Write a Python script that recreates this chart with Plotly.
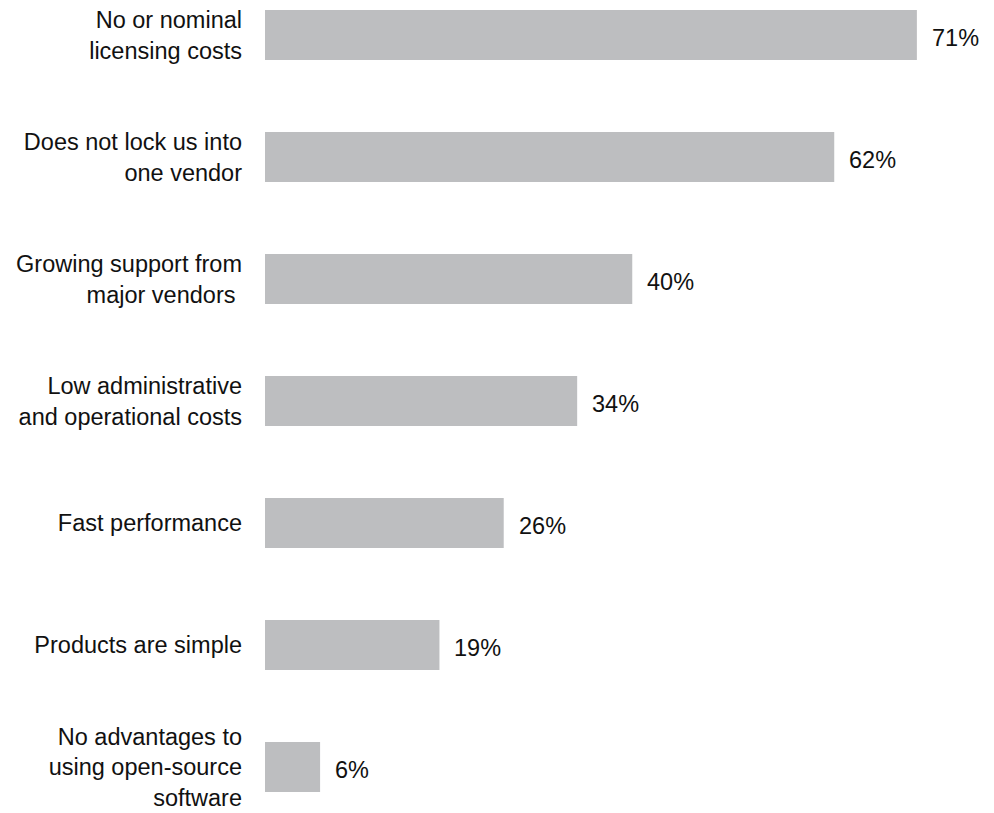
import plotly.graph_objects as go

# Survey: perceived advantages of open-source software (share of respondents, %)
categories = [
    "No or nominal<br>licensing costs",
    "Does not lock us into<br>one vendor",
    "Growing support from<br>major vendors ",
    "Low administrative<br>and operational costs",
    "Fast performance",
    "Products are simple",
    "No advantages to<br>using open-source<br>software",
]
values = [71, 62, 40, 34, 26, 19, 6]
value_labels = [f"{v}%" for v in values]

positions = list(range(len(categories)))

FONT = "Liberation Sans, Arial, Helvetica, sans-serif"
FONT_SIZE = 23.5
BAR_COLOR = "#BDBEC0"
TEXT_COLOR = "#111111"

fig = go.Figure()
fig.add_trace(
    go.Bar(
        x=values,
        y=positions,
        orientation="h",
        width=0.41,
        marker=dict(color=BAR_COLOR, line=dict(width=0)),
        hoverinfo="skip",
    )
)

# percentage labels just right of each bar
for pos, val, lab in zip(positions, values, value_labels):
    fig.add_annotation(
        x=val,
        y=pos,
        text=lab,
        showarrow=False,
        xanchor="left",
        yanchor="middle",
        xshift=13,
        yshift=-3,
        font=dict(family=FONT, size=FONT_SIZE, color=TEXT_COLOR),
    )

fig.update_layout(
    width=994,
    height=813,
    margin=dict(l=265, r=0, t=0, b=0, pad=0),
    paper_bgcolor="white",
    plot_bgcolor="white",
    showlegend=False,
    font=dict(family=FONT, size=FONT_SIZE, color=TEXT_COLOR),
)
fig.update_xaxes(
    range=[0, 79.4],
    visible=False,
    showgrid=False,
    zeroline=False,
    fixedrange=True,
)
fig.update_yaxes(
    range=[6.377, -0.287],
    tickmode="array",
    tickvals=positions,
    ticktext=categories,
    showgrid=False,
    zeroline=False,
    showline=False,
    ticks="",
    ticklabelstandoff=22,
    automargin=False,
    tickfont=dict(family=FONT, size=FONT_SIZE, color=TEXT_COLOR),
    fixedrange=True,
)

fig.write_html("out.html")
